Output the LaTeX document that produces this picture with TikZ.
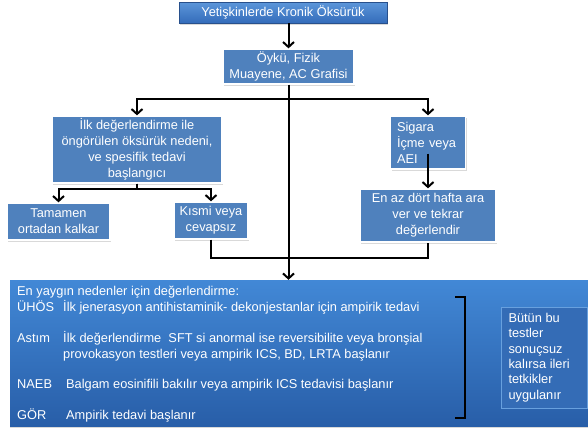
\documentclass[tikz,border=0pt]{standalone}
\usepackage{fontspec}
\setmainfont{Liberation Sans}
\usepackage{xcolor}
\usetikzlibrary{arrows.meta, positioning, shadows, calc}

\definecolor{boxblue}{RGB}{79,129,189}
\definecolor{titletop}{RGB}{92,150,218}
\definecolor{titlebot}{RGB}{52,108,186}
\definecolor{titleline}{RGB}{40,80,140}
\definecolor{paneltop}{RGB}{66,136,214}
\definecolor{panelbot}{RGB}{40,94,168}
\definecolor{noteblue}{RGB}{52,108,182}

\begin{document}
\begin{tikzpicture}[
  x=1pt, y=-1pt,
  every node/.style={font=\fontsize{12.8}{16}\selectfont, text=white},
  box/.style={rectangle, draw=white, line width=1.3pt, fill=boxblue,
              align=center, inner sep=2pt,
              drop shadow={opacity=0.3, shadow xshift=1pt, shadow yshift=-1.5pt}},
  title/.style={box, draw=titleline, line width=0.8pt,
                top color=titletop, bottom color=titlebot},
  panel/.style={rectangle, top color=paneltop, bottom color=panelbot,
                draw=none, inner sep=0pt,
                drop shadow={opacity=0.3, shadow xshift=0pt, shadow yshift=-2pt}},
  notebox/.style={rectangle, fill=noteblue, draw=paneltop!80!white,
                  line width=0.4pt, align=left, inner sep=0pt,
                  drop shadow={opacity=0.25, shadow xshift=1pt, shadow yshift=-1pt}},
  entry/.style={anchor=base west, inner sep=0pt, align=left},
  arrow/.style={-{Straight Barb[length=5pt, width=11pt]}, line width=2pt},
  link/.style={line width=2pt}
]
  \useasboundingbox (0,0) rectangle (588,429);

  % flow boxes
  \node[title, minimum width=208pt, minimum height=21pt] (start) at (283,12.5)
        {Yetişkinlerde Kronik Öksürük};
  \node[box, minimum width=131pt, minimum height=35pt] (history) at (288.5,66.5)
        {Öykü, Fizik\\Muayene, AC Grafisi};
  \node[box, minimum width=170pt, minimum height=67pt] (initial) at (137,149.5)
        {İlk değerlendirme ile\\öngörülen öksürük nedeni,\\ve spesifik tedavi\\başlangıcı};
  \node[box, minimum width=75pt, minimum height=53pt, align=left,
        text width=62pt] (smoking) at (428,142.5)
        {Sigara\\İçme veya\\AEI};
  \node[box, minimum width=136pt, minimum height=53pt] (pause) at (428,215.5)
        {En az dört hafta ara\\ver ve tekrar\\değerlendir};
  \node[box, minimum width=103pt, minimum height=37pt] (resolved) at (58.5,221.5)
        {Tamamen\\ortadan kalkar};
  \node[box, minimum width=74pt, minimum height=37pt] (partial) at (211,220.5)
        {Kısmi veya\\cevapsız};

  % bottom panel
  \node[panel, minimum width=578pt, minimum height=146pt] (common) at (299,353) {};
  \node[notebox, minimum width=86pt, minimum height=101pt] (further) at (544.5,357.5)
        {\hspace*{6pt}\parbox{78pt}{\fontsize{12.8}{15.4}\selectfont
         Bütün bu\\testler\\sonuçsuz\\kalırsa ileri\\tetkikler\\uygulanır}};

  \node[entry] (head) at (17,295) {En yaygın nedenler için değerlendirme:};
  \node[entry] (uhos) at (17,311) {ÜHÖS};
  \node[entry] (uhostx) at (63,311)
        {İlk jenerasyon antihistaminik- dekonjestanlar için ampirik tedavi};
  \node[entry] (astim) at (17,342) {Astım};
  \node[entry] (astimtx) at (63,342)
        {İlk değerlendirme\ \ SFT si anormal ise reversibilite veya\ bronşial};
  \node[entry] (astimtx2) at (63,358)
        {provokasyon\ testleri veya\ ampirik ICS, BD, LRTA başlanır};
  \node[entry] (naeb) at (17,388) {NAEB};
  \node[entry] (naebtx) at (66,388)
        {Balgam eosinifili bakılır veya\ ampirik ICS tedavisi başlanır};
  \node[entry] (gor) at (17,419) {GÖR};
  \node[entry] (gortx) at (66,419) {Ampirik tedavi başlanır};

  % bracket
  \coordinate (brtop) at (465,297);
  \coordinate (brbot) at (465,418);
  \draw[link] ($(brtop)+(-10,0)$) -- (brtop) -- (brbot) -- ($(brbot)+(-10,0)$);

  % connectors
  \coordinate (split) at (288.5,99);
  \coordinate (join) at (288.5,258);
  \draw[arrow] (start.south -| history) -- (history.north);
  \draw[link] (history.south) -- (split);
  \draw[arrow] (split) -| (initial.north);
  \draw[arrow] (split) -| (smoking.north);
  \draw[arrow] (split) -- (split |- common.north);
  \draw[arrow] (initial.south) -- ++(0,5) -| (resolved.north);
  \draw[arrow] (initial.south) -- ++(0,5) -| (partial.north);
  \draw[arrow] ([yshift=16pt]smoking.south) -- (pause.north);
  \draw[link] (partial.south) |- (join) -| (pause.south);
\end{tikzpicture}
\end{document}
